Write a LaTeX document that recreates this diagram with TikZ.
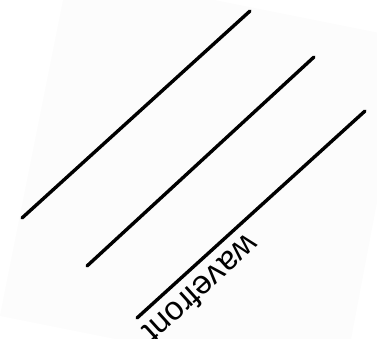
\documentclass[tikz,border=0pt]{standalone}
\usepackage{fontspec}
\setmainfont{Liberation Sans}
\begin{document}
\begin{tikzpicture}[x=1pt,y=-1pt,
  wave/.style={line width=3.4pt,line cap=round,black},
  lbl/.style={font=\fontsize{33}{35}\selectfont,inner sep=0pt,rotate=222.2}]
\useasboundingbox (0,0) rectangle (377,338);
\fill[white!99!black] (68.8,-29.2) -- (408,38.6) -- (342.5,384.5) -- (-0.2,316) -- cycle;
\coordinate (a1) at (22,218);  \coordinate (b1) at (250,11);
\coordinate (a2) at (87,266);  \coordinate (b2) at (314,57);
\coordinate (a3) at (137,318); \coordinate (b3) at (365,111);
\draw[wave] (a1) -- (b1);
\draw[wave] (a2) -- (b2);
\draw[wave] (a3) -- (b3);
\node[lbl,anchor=base] (t) at (194,281) {wavefront};
\end{tikzpicture}
\end{document}
